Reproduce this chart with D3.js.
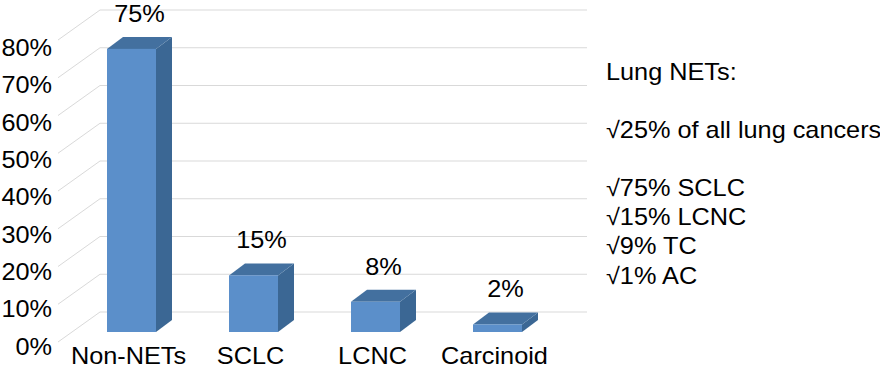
<!DOCTYPE html>
<html>
<head>
<meta charset="utf-8">
<script src="https://cdn.jsdelivr.net/npm/d3@7/dist/d3.min.js"></script>
<style>
html,body{margin:0;padding:0;background:#fff;}
text{font-family:"Liberation Sans",Arial,Helvetica,sans-serif;fill:#000;}
</style>
</head>
<body>
<svg id="chart" width="880" height="368"></svg>
<script>
const categories = ["Non-NETs", "SCLC", "LCNC", "Carcinoid"];
const values = [75, 15, 8, 2];
const tickValues = [0, 10, 20, 30, 40, 50, 60, 70, 80];
const noteLines = ["Lung NETs:", "\u221A25% of all lung cancers", "\u221A75% SCLC", "\u221A15% LCNC", "\u221A9% TC", "\u221A1% AC"];

const svg = d3.select("#chart");
const fontSize = 23;
const stretch = 1.1;

// 3D geometry
const frontBaseY = 342, frontX = 58;
const backBaseY = 312, backX = 100, backRight = 587;
const h = d3.scaleLinear().domain([0, 80]).range([0, 302]); // height in px
const barBaseY = 332;
const barDX = 16, barDY = 12, barW = 49;

const x = d3.scalePoint().domain(categories).range([131.5, 497.5]);
const labelY = d3.scaleLinear().domain([0, 80]).range([347, 48]);

function putText(g, tx, ty, str, anchor, size) {
  return g.append("text")
    .attr("transform", `translate(${tx},${ty}) scale(${stretch},1)`)
    .attr("text-anchor", anchor).attr("font-size", size || fontSize)
    .text(str);
}

// grid: back wall lines + left wall diagonals
const grid = svg.append("g").attr("stroke", "#d9d9d9").attr("stroke-width", 1).attr("fill", "none");
tickValues.forEach(v => {
  grid.append("line")
    .attr("x1", backX).attr("x2", backRight)
    .attr("y1", backBaseY - h(v)).attr("y2", backBaseY - h(v));
  grid.append("line")
    .attr("x1", frontX).attr("y1", frontBaseY - h(v))
    .attr("x2", backX).attr("y2", backBaseY - h(v));
});

// y axis labels
const yAxis = d3.axisLeft(labelY).tickValues(tickValues).tickSize(0).tickPadding(0)
  .tickFormat(d => d + "%");
const gy = svg.append("g").attr("transform", "translate(52,0)").call(yAxis);
gy.select(".domain").remove();
gy.selectAll("text").attr("font-size", fontSize).attr("font-family", null).attr("fill", "#000")
  .attr("transform", `scale(${stretch},1)`);

// bars
const bars = svg.append("g");
categories.forEach((c, i) => {
  const v = values[i];
  const cx = x(c);
  const x0 = cx - barW / 2, x1 = cx + barW / 2;
  const yTop = barBaseY - h(v);
  bars.append("path")
    .attr("d", `M${x1},${barBaseY}L${x1 + barDX},${barBaseY - barDY}L${x1 + barDX},${yTop - barDY}L${x1},${yTop}Z`)
    .attr("fill", "#3b6794");
  bars.append("path")
    .attr("d", `M${x0},${yTop}L${x0 + barDX},${yTop - barDY}L${x1 + barDX},${yTop - barDY}L${x1},${yTop}Z`)
    .attr("fill", "#43709f");
  bars.append("rect")
    .attr("x", x0).attr("y", yTop).attr("width", barW).attr("height", h(v))
    .attr("fill", "#5b8fca");
  putText(svg, cx + barDX / 2, yTop - 27, v + "%", "middle");
  putText(svg, cx - 3, 364, c, "middle");
});

// note text
const noteBaselines = [80, 138, 196, 225, 254, 284];
noteLines.forEach((t, i) => {
  putText(svg, 606, noteBaselines[i], t, "start");
});
</script>
</body>
</html>
